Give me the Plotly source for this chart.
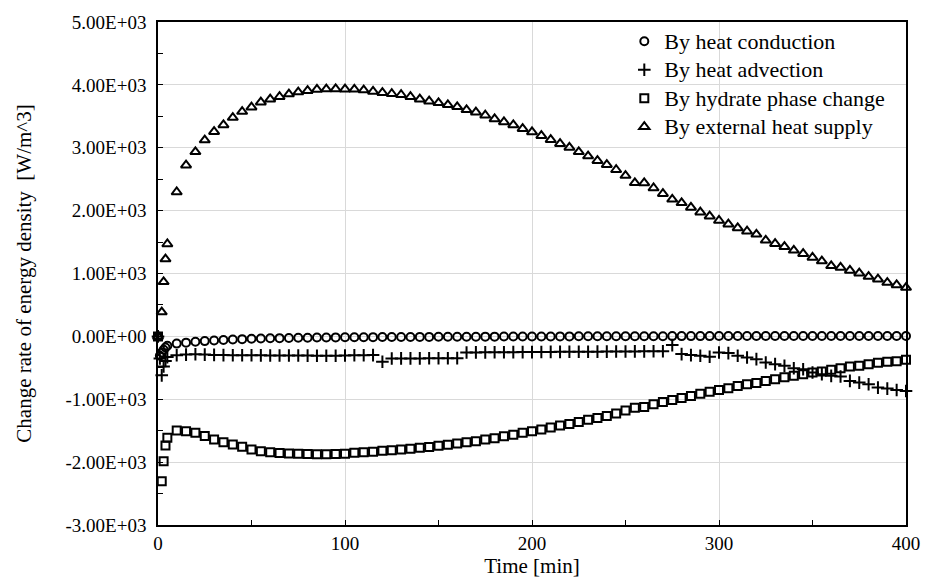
import plotly.graph_objects as go

time_min = [0, 1, 2, 3, 4, 5,
            10, 15, 20, 25, 30, 35, 40, 45, 50, 55, 60, 65, 70, 75, 80, 85, 90, 95, 100,
            105, 110, 115, 120, 125, 130, 135, 140, 145, 150, 155, 160, 165, 170, 175, 180,
            185, 190, 195, 200, 205, 210, 215, 220, 225, 230, 235, 240, 245, 250, 255, 260,
            265, 270, 275, 280, 285, 290, 295, 300, 305, 310, 315, 320, 325, 330, 335, 340,
            345, 350, 355, 360, 365, 370, 375, 380, 385, 390, 395, 400]

heat_conduction = [0, -308, -256, -212, -176, -149,
                   -115, -100, -85, -75, -65, -57, -50, -44, -39, -35, -31, -28, -25, -23, -21, -19, -17, -16, -15,
                   -14, -13, -12, -11, -10, -10, -9, -8, -8, -7, -6, -6, -5, -5, -4, -4,
                   -3, -3, -2, -2, -1, -1, 0, 0, 1, 1, 1, 2, 2, 2, 3, 3,
                   3, 3, 4, 4, 4, 4, 4, 5, 5, 5, 5, 5, 5, 5, 5, 5,
                   5, 5, 5, 5, 5, 5, 5, 5, 5, 5, 5, 5]

heat_advection = [0, -350, -620, -480, -390, -330,
                  -300, -290, -285, -290, -295, -298, -300, -300, -300, -302, -303, -304, -305, -305, -306, -307, -307, -308, -305,
                  -300, -300, -298, -403, -351, -350, -350, -350, -349, -348, -347, -346, -256, -255, -254, -253,
                  -252, -251, -250, -250, -248, -247, -246, -245, -245, -244, -243, -242, -241, -240, -239, -238,
                  -237, -236, -139, -282, -298, -309, -324, -256, -266, -309, -335, -362, -415, -442, -469, -506,
                  -522, -575, -602, -628, -639, -708, -735, -761, -815, -831, -852, -868]

hydrate_phase_change = [0, None, -2305, -1986, -1736, -1613,
                        -1496, -1507, -1534, -1586, -1640, -1683, -1720, -1757, -1800, -1826, -1842, -1853, -1862, -1868, -1872, -1874, -1874, -1872, -1865,
                        -1850, -1843, -1836, -1820, -1812, -1800, -1787, -1770, -1758, -1740, -1722, -1704, -1683, -1667, -1640, -1619,
                        -1587, -1566, -1534, -1507, -1480, -1448, -1416, -1395, -1363, -1325, -1300, -1267, -1225, -1177, -1134, -1124,
                        -1081, -1044, -1012, -980, -948, -911, -879, -852, -825, -788, -761, -740, -708, -682, -650, -628,
                        -602, -575, -559, -532, -506, -479, -469, -442, -421, -405, -394, -373]

external_heat_supply = [0, None, 387, 867, 1229, 1469,
                        2296, 2723, 2936, 3123, 3256, 3363, 3480, 3576, 3645, 3725, 3773, 3811, 3853, 3885, 3907, 3928, 3933, 3935, 3932,
                        3930, 3917, 3896, 3875, 3859, 3843, 3811, 3773, 3741, 3715, 3683, 3651, 3603, 3565, 3517, 3459,
                        3411, 3363, 3304, 3251, 3192, 3128, 3064, 3005, 2936, 2867, 2795, 2730, 2650, 2558, 2442, 2440,
                        2360, 2269, 2179, 2125, 2051, 1976, 1912, 1843, 1784, 1725, 1672, 1624, 1528, 1475, 1427, 1368,
                        1315, 1256, 1197, 1123, 1096, 1048, 1005, 952, 909, 856, 819, 776]

series_names = ["By heat conduction", "By heat advection", "By hydrate phase change", "By external heat supply"]
series_symbols = ["circle-open", "cross-thin-open", "square-open", "triangle-up-open"]
series_values = [heat_conduction, heat_advection, hydrate_phase_change, external_heat_supply]
series_sizes = [8, 9, 8, 9]

y_tick_vals = [-3000, -2000, -1000, 0, 1000, 2000, 3000, 4000, 5000]
y_tick_text = ["-3.00E+03", "-2.00E+03", "-1.00E+03", "0.00E+00", "1.00E+03",
               "2.00E+03", "3.00E+03", "4.00E+03", "5.00E+03"]
x_tick_vals = [0, 100, 200, 300, 400]
x_tick_text = ["0", "100", "200", "300", "400"]

FONT = "Liberation Serif, Times New Roman, serif"

fig = go.Figure()
for name, sym, vals, sz in zip(series_names, series_symbols, series_values, series_sizes):
    fig.add_trace(go.Scatter(
        x=time_min, y=vals, mode="markers",
        name='<span style="font-size:22px">' + name + '</span>',
        marker=dict(symbol=sym, size=sz, color="black", line=dict(color="black", width=2)),
        cliponaxis=False,
    ))

fig.update_layout(
    width=932, height=582,
    margin=dict(l=158, r=17, t=21, b=57),
    paper_bgcolor="white", plot_bgcolor="white",
    font=dict(family=FONT, size=19, color="black"),
    showlegend=True,
    legend=dict(x=0.6234, y=1.0, xanchor="left", yanchor="top",
                bgcolor="rgba(0,0,0,0)", font=dict(family=FONT, size=19.6, color="black"),
                itemwidth=30, tracegroupgap=0),
)
fig.update_xaxes(
    range=[0, 400], tickvals=x_tick_vals, ticktext=x_tick_text,
    ticks="inside", ticklen=5, tickcolor="black", tickwidth=1,
    minor=dict(dtick=50, ticks="inside", ticklen=5, tickcolor="black", showgrid=False),
    showgrid=True, gridcolor="#d9d9d9", gridwidth=1,
    showline=True, linecolor="black", linewidth=1.5, mirror=True, zeroline=False,
    tickfont=dict(family=FONT, size=19, color="black"),
    title=dict(text="Time [min]", font=dict(family=FONT, size=21, color="black"), standoff=2),
)
fig.update_yaxes(
    range=[-3000, 5000], tickvals=y_tick_vals, ticktext=y_tick_text,
    ticks="inside", ticklen=5, tickcolor="black", tickwidth=1,
    minor=dict(dtick=500, ticks="inside", ticklen=5, tickcolor="black", showgrid=False),
    showgrid=True, gridcolor="#d9d9d9", gridwidth=1,
    showline=True, linecolor="black", linewidth=1.5, mirror=True, zeroline=False,
    tickfont=dict(family=FONT, size=19, color="black"),
    ticklabelstandoff=6,
    title=dict(text="Change rate of energy density \u00a0[W/m^3]",
               font=dict(family=FONT, size=21, color="black"), standoff=28),
)

fig.write_html("out.html")
